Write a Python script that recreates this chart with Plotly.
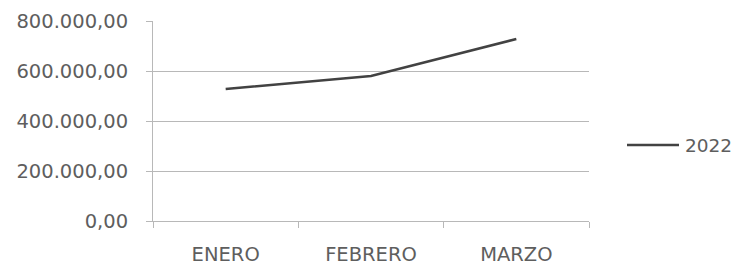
import plotly.graph_objects as go

months = ["ENERO", "FEBRERO", "MARZO"]
values_2022 = [528000, 580000, 728000]
series_name = "2022"
y_ticks = [0, 200000, 400000, 600000, 800000]

font_family = "DejaVu Sans"
text_color = "#5e5e5e"
grid_color = "#b8b8b8"
line_color = "#424242"

W, H = 734, 265
L, R, T, B = 153, 145, 21, 44
PW = W - L - R
PH = H - T - B

fig = go.Figure()
fig.add_trace(go.Scatter(
    x=months, y=values_2022, mode="lines", name=series_name,
    line=dict(color=line_color, width=2.5), showlegend=False,
))

# legend drawn manually to match the long legend key
ly = (221 - 145) / PH
fig.add_shape(type="line", xref="paper", yref="paper",
              x0=(627 - L) / PW, x1=(679 - L) / PW, y0=ly, y1=ly,
              line=dict(color=line_color, width=2.5))
fig.add_annotation(text=series_name, xref="paper", yref="paper",
                   x=(683 - L) / PW, y=ly,
                   xanchor="left", yanchor="middle", showarrow=False,
                   font=dict(family=font_family, size=18.5, color=text_color))

fig.update_layout(
    width=W, height=H,
    margin=dict(l=L, r=R, t=T, b=B, autoexpand=False),
    paper_bgcolor="white", plot_bgcolor="white",
    separators=",.",
    font=dict(family=font_family, size=19.5, color=text_color),
    showlegend=False,
)
fig.update_xaxes(
    type="category", range=[-0.5, 2.5], automargin=False,
    showline=True, linecolor=grid_color, linewidth=1,
    showgrid=False, tickson="boundaries", ticks="outside",
    ticklen=6, tickcolor=grid_color, ticklabelstandoff=16,
)
fig.update_yaxes(
    range=[0, 800000], tickvals=y_ticks, tickformat=",.2f", automargin=False,
    showgrid=True, gridcolor=grid_color, gridwidth=1,
    showline=True, linecolor=grid_color, linewidth=1,
    ticks="outside", ticklen=6, tickcolor=grid_color,
    ticklabelstandoff=14, zeroline=False,
)

fig.write_html(
    "out.html",
    config={"displayModeBar": False},
    post_script="document.body.style.margin='0';document.body.style.overflow='hidden';",
)
